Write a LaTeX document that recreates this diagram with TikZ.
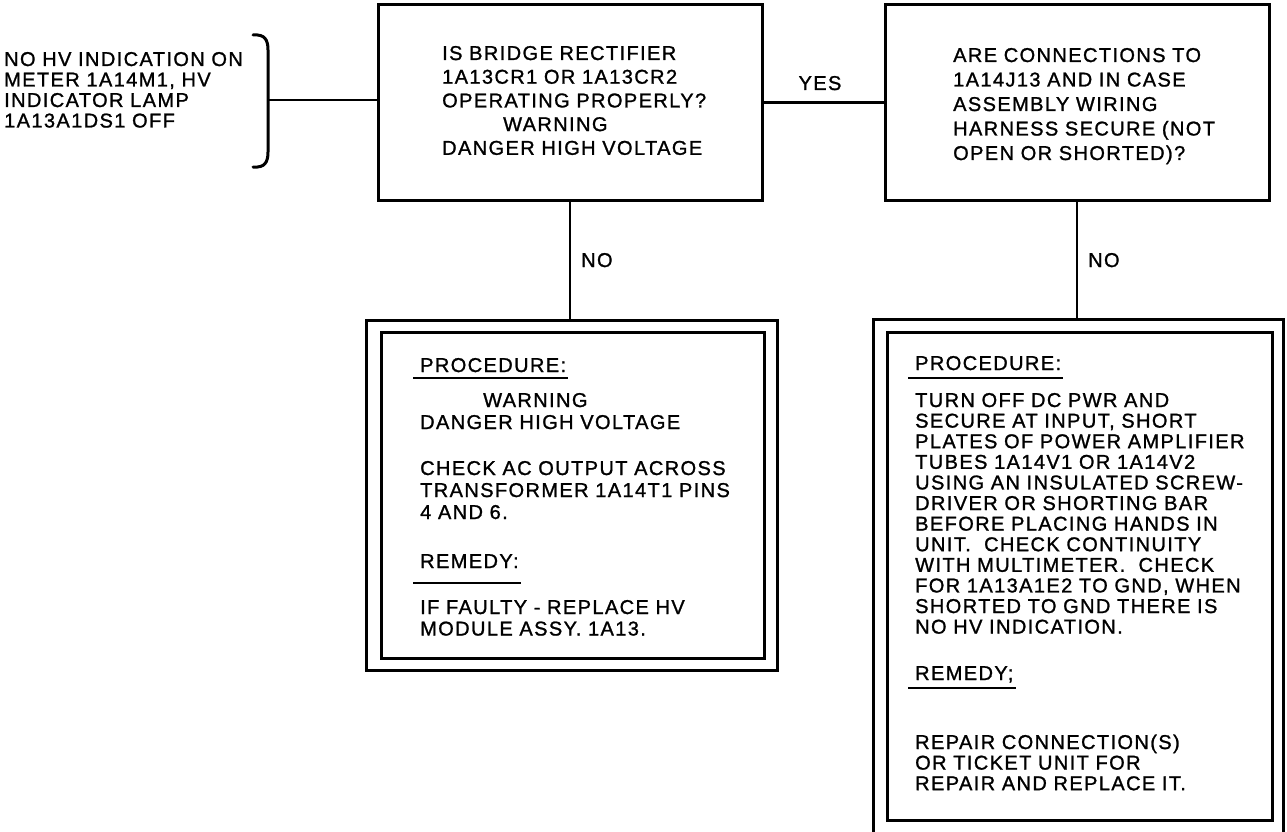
\documentclass[tikz,border=0pt]{standalone}
\usepackage{fontspec}
\setmainfont{Liberation Sans}[LetterSpace=7,FakeBold=1.2]
\begin{document}
\begin{tikzpicture}[x=1pt,y=-1pt,
  box/.style={draw, line width=3pt, rectangle, inner sep=0pt},
  wire/.style={line width=2.6pt},
  ul/.style={line width=1.6pt},
  txt/.style={inner sep=0pt, anchor=base west, align=left, text width=380pt,
              font=\fontsize{20}{#1}\selectfont},
  lbl/.style={inner sep=0pt, font=\fontsize{20}{22}\selectfont}]
\useasboundingbox (0,0) rectangle (1287,832);
\clip (0,0) rectangle (1287,832);

% boxes
\node[box, minimum width=384pt, minimum height=195pt] (q1) at (570,102.5) {};
\node[box, minimum width=384pt, minimum height=195pt] (q2) at (1077,102.5) {};
\node[box, minimum width=411pt, minimum height=350pt] (lpo) at (571.5,495) {};
\node[box, minimum width=383pt, minimum height=326pt] (lpi) at (572.5,495) {};
\node[box, minimum width=410pt, minimum height=530pt] (rpo) at (1078,584) {};
\node[box, minimum width=385pt, minimum height=488pt] (rpi) at (1079.5,576) {};

% starting condition with bracket
\node[txt=20.5] (start) at (4,66) {NO HV INDICATION ON\\METER 1A14M1, HV\\INDICATOR LAMP\\1A13A1DS1 OFF};
\coordinate (bt) at (253,35);
\coordinate (bm) at (268,100);
\coordinate (bb) at (253,167);
\draw[line width=3pt, line cap=round] (bt) .. controls (265,34) and (268,40) .. (268,50)
  -- (268,152) .. controls (268,162) and (265,168) .. (bb);
\draw[wire] (bm) -- (bm -| q1.west);

% question texts
\node[txt=23.7] (q1t) at (442,60) {IS BRIDGE RECTIFIER\\1A13CR1 OR 1A13CR2\\OPERATING PROPERLY?\\\hspace*{61pt}WARNING\\DANGER HIGH VOLTAGE};
\node[txt=24.5] (q2t) at (953,62) {ARE CONNECTIONS TO\\1A14J13 AND IN CASE\\ASSEMBLY WIRING\\HARNESS SECURE (NOT\\OPEN OR SHORTED)?};

% connectors
\draw[wire] (q1.east) -- (q2.west);
\node[lbl, anchor=base] (yes) at (820,90) {YES};
\draw[wire] (q1.south) -- (q1.south |- lpo.north);
\node[lbl, anchor=base west] (no1) at (581,267) {NO};
\draw[wire] (q2.south) -- (q2.south |- rpo.north);
\node[lbl, anchor=base west] (no2) at (1088,267) {NO};

% left procedure
\node[lbl, anchor=base west] (lh1) at (420,372) {PROCEDURE:};
\draw[ul] ([xshift=-7pt,yshift=-6pt]lh1.base west) -- ([xshift=2pt,yshift=-6pt]lh1.base east);
\node[txt=22] (lb1) at (420,407) {\hspace*{63pt}WARNING\\DANGER HIGH VOLTAGE\\[24pt]CHECK AC OUTPUT ACROSS\\TRANSFORMER 1A14T1 PINS\\4 AND 6.};
\node[lbl, anchor=base west] (lh2) at (420,568) {REMEDY:};
\draw[ul] ([xshift=-7pt,yshift=-15pt]lh2.base west) -- ([xshift=2pt,yshift=-15pt]lh2.base east);
\node[txt=21.5] (lb2) at (420,614) {IF FAULTY - REPLACE HV\\MODULE ASSY. 1A13.};

% right procedure
\node[lbl, anchor=base west] (rh1) at (915,370) {PROCEDURE:};
\draw[ul] ([xshift=-7pt,yshift=-8pt]rh1.base west) -- ([xshift=2pt,yshift=-8pt]rh1.base east);
\node[txt=20.6] (rb1) at (915,407) {TURN OFF DC PWR AND\\SECURE AT INPUT, SHORT\\PLATES OF POWER AMPLIFIER\\TUBES 1A14V1 OR 1A14V2\\USING AN INSULATED SCREW-\\DRIVER OR SHORTING BAR\\BEFORE PLACING HANDS IN\\UNIT.\ \ CHECK CONTINUITY\\WITH MULTIMETER.\ \ CHECK\\FOR 1A13A1E2 TO GND, WHEN\\SHORTED TO GND THERE IS\\NO HV INDICATION.};
\node[lbl, anchor=base west] (rh2) at (915,680) {REMEDY;};
\draw[ul] ([xshift=-7pt,yshift=-8pt]rh2.base west) -- ([xshift=2pt,yshift=-8pt]rh2.base east);
\node[txt=20.6] (rb2) at (915,749) {REPAIR CONNECTION(S)\\OR TICKET UNIT FOR\\REPAIR AND REPLACE IT.};
\end{tikzpicture}
\end{document}
